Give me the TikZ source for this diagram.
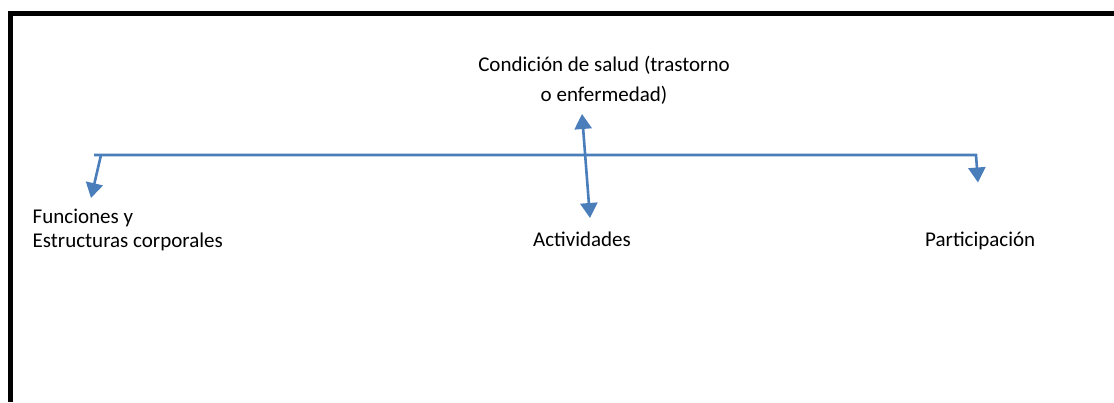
\documentclass[tikz,border=0pt]{standalone}
\usepackage{fontspec}
\setmainfont{Carlito}
\usetikzlibrary{arrows.meta}
\definecolor{lineblue}{RGB}{74,126,187}
\tikzset{
  lbl/.style={inner sep=0pt, font=\fontsize{21}{24}\selectfont, text=black},
  conn/.style={draw=lineblue, line width=2.6pt},
  tip/.style={-{Triangle[length=15pt,width=17pt]}},
}
\begin{document}
\begin{tikzpicture}[x=1pt,y=-1pt]
\useasboundingbox (0,0) rectangle (1114,402);
% frame
\draw[line width=5pt, line join=miter] (10,402) -- (10,13.5) -- (1114,13.5);
% labels (base anchor = last line's baseline)
\node[lbl, anchor=base, align=center, font=\fontsize{21}{30}\selectfont] (salud) at (604,101) {Condición de salud (trastorno\\o enfermedad)};
\node[lbl, anchor=base west, align=left] (func) at (32.5,247) {Funciones y\\Estructuras corporales};
\node[lbl, anchor=base] (act) at (582,246) {Actividades};
\node[lbl, anchor=base west] (part) at (925,246) {Participación};
% connector points
\coordinate (hstart) at (94,155);
\coordinate (lstem) at (101,155);
\coordinate (ltip) at (91,198);
\coordinate (rcorner) at (976,155);
\coordinate (rtip) at (978,182.5);
\coordinate (mtop) at (582,114);
\coordinate (mbot) at (590,218);
% connectors
\draw[conn, tip] (hstart) -- (rcorner) -- (rtip);
\draw[conn, tip] (lstem) -- (ltip);
\draw[conn, {Triangle[length=15pt,width=17pt]}-{Triangle[length=15pt,width=17pt]}] (mtop) -- (mbot);
\end{tikzpicture}
\end{document}
